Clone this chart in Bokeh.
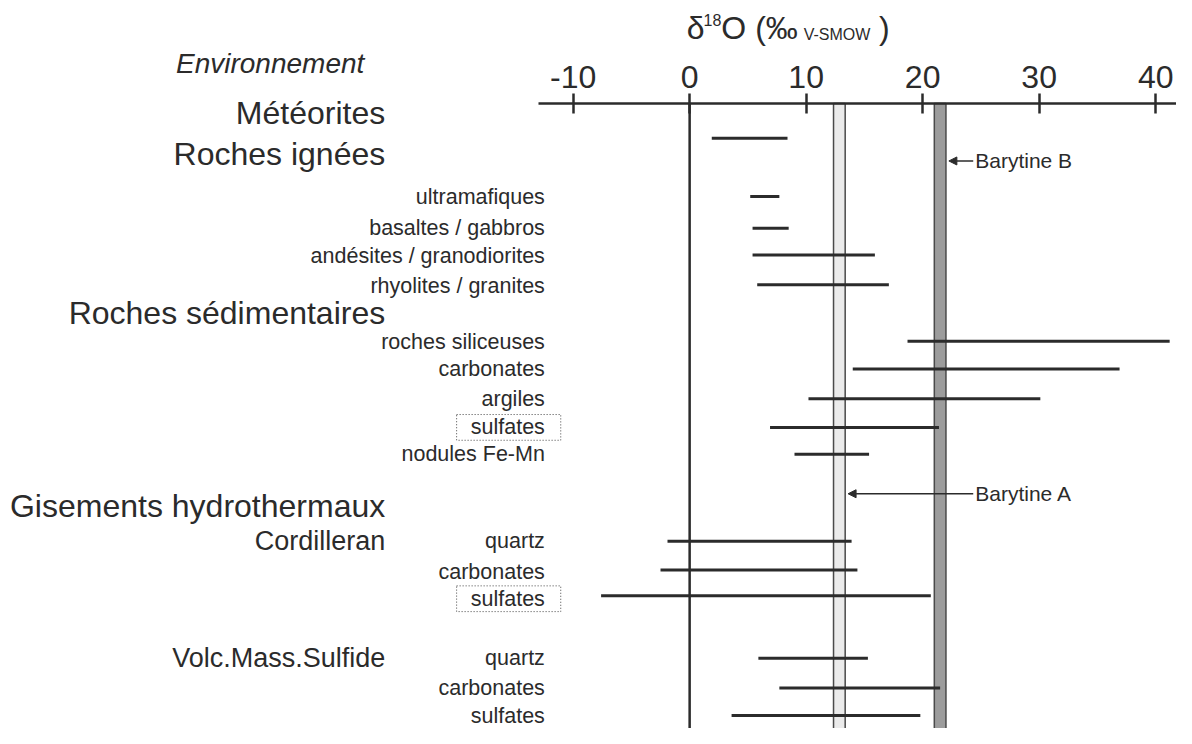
from bokeh.plotting import figure
from bokeh.models import Range1d, LinearAxis, FixedTicker, Arrow, NormalHead, ColumnDataSource
from bokeh.core.properties import value
from bokeh.embed import file_html
from bokeh.resources import INLINE

# ---------------- data ----------------
tick_values = [-10, 0, 10, 20, 30, 40]
tick_labels = ["-10", "0", "10", "20", "30", "40"]

range_labels = ["Météorites", "ultramafiques", "basaltes / gabbros", "andésites / granodiorites",
                "rhyolites / granites", "roches siliceuses", "carbonates", "argiles", "sulfates",
                "nodules Fe-Mn", "quartz", "carbonates", "sulfates", "quartz", "carbonates", "sulfates"]
range_min = [1.9, 5.2, 5.4, 5.4, 5.8, 18.7, 14.0, 10.2, 6.9, 9.0, -1.9, -2.5, -7.6, 5.9, 7.7, 3.6]
range_max = [8.4, 7.7, 8.5, 15.9, 17.1, 41.2, 36.9, 30.1, 21.4, 15.4, 13.9, 14.4, 20.7, 15.3, 21.5, 19.8]

barytine_names = ["Barytine A", "Barytine B"]
barytine_min = [12.35, 21.0]
barytine_max = [13.35, 22.0]

group_labels = ["Météorites", "Roches ignées", "Roches sédimentaires", "Gisements hydrothermaux"]
deposit_labels = ["Cordilleran", "Volc.Mass.Sulfide"]
sub_labels = range_labels[1:]
boxed_labels = [7, 11]  # index in sub_labels

# ---------------- layout ----------------
PX0, PXU = 695.0, 11.75
def X(px):
    return (px - PX0) / PXU

W, H = 1176, 728
X_SPAN = 1186     # reference pixels squeezed into the canvas width
Y_SPAN = 735      # reference pixels squeezed into the canvas height
AXIS_Y = 104
BOTTOM = 742
FONT = value("Liberation Sans")
INK = "#2b2b2b"

seg_y = [139, 198, 230, 257, 287, 344, 372, 402, 431, 458, 546, 575, 601, 664, 694, 722]
sub_y = [198, 230, 258, 288, 345, 372, 402, 431, 458, 546, 577, 604, 664, 694, 722]
group_y = [114, 155, 316, 510]
deposit_y = [546, 664]
barytine_arrow_y = [498, 162]

p = figure(width=W, height=H, x_range=Range1d(X(0), X(X_SPAN)), y_range=Range1d(Y_SPAN, 0),
           output_backend="svg", toolbar_location=None, x_axis_location=None, y_axis_location=None,
           min_border=0, outline_line_color=None, background_fill_color="white")
p.xgrid.visible = False
p.ygrid.visible = False

# axis
ax = LinearAxis(fixed_location=AXIS_Y, ticker=FixedTicker(ticks=tick_values),
                bounds=(X(543), X(X_SPAN)))
ax.major_label_overrides = {v: t for v, t in zip(tick_values, tick_labels)}
ax.axis_line_width = 2.5
ax.axis_line_color = INK
ax.major_tick_in = 10
ax.major_tick_out = 10
ax.major_tick_line_width = 2.5
ax.major_tick_line_color = INK
ax.minor_tick_in = 0
ax.minor_tick_out = 0
ax.major_label_text_font = "Liberation Sans"
ax.major_label_text_font_size = "32px"
ax.major_label_text_color = INK
ax.major_label_standoff = 6
p.add_layout(ax, "above")

# barytine bands
band_src = ColumnDataSource(dict(name=barytine_names, lo=barytine_min, hi=barytine_max,
                                 color=["#ebebeb", "#9c9c9c"]))
p.quad(left="lo", right="hi", top=AXIS_Y, bottom=BOTTOM, source=band_src,
       fill_color="color", line_color="#4a4a4a", line_width=1.5)

# zero line
p.segment(x0=[0], x1=[0], y0=[AXIS_Y], y1=[Y_SPAN], line_color=INK, line_width=2.5)

# ranges
src = ColumnDataSource(dict(label=range_labels, lo=range_min, hi=range_max, y=seg_y))
p.segment(x0="lo", x1="hi", y0="y", y1="y", source=src, line_color=INK, line_width=3)

# arrows to barytine bands
for i, name in enumerate(barytine_names):
    tip = barytine_max[i] + 0.25
    p.add_layout(Arrow(end=NormalHead(size=8, fill_color=INK, line_color=INK, line_width=1),
                       x_start=X(981), y_start=barytine_arrow_y[i], x_end=tip,
                       y_end=barytine_arrow_y[i], line_color=INK, line_width=1.5))
p.text(x=[X(983)] * 2, y=barytine_arrow_y, text=barytine_names, text_font=FONT,
       text_font_size="21px", text_align="left", text_baseline="middle", text_color=INK)

# labels
p.text(x=[X(177)], y=[64], text=["Environnement"], text_font=FONT, text_font_style="italic",
       text_font_size="28px", text_align="left", text_baseline="middle", text_color=INK)
p.text(x=[X(388)] * len(group_labels), y=group_y, text=group_labels, text_font=FONT,
       text_font_size="32px", text_align="right", text_baseline="middle", text_color=INK)
p.text(x=[X(388)] * len(deposit_labels), y=deposit_y, text=deposit_labels, text_font=FONT,
       text_font_size="27px", text_align="right", text_baseline="middle", text_color=INK)
p.text(x=[X(549)] * len(sub_labels), y=sub_y, text=sub_labels, text_font=FONT,
       text_font_size="21.5px", text_align="right", text_baseline="middle", text_color=INK)

# dotted boxes
bx = [sub_y[i] for i in boxed_labels]
p.quad(left=X(460), right=X(565), top=[y - 13 for y in bx], bottom=[y + 13 for y in bx],
       fill_color=None, line_color="#444444", line_width=1, line_dash="1 2")

# axis title  δ18O (‰ V-SMOW )
title_parts = ["δ", "18", "O (‰", "V-SMOW", ")"]
title_px = [692, 709, 727, 810, 886]
title_mid = [28, 20, 28, 34, 28]
title_size = ["32px", "16px", "32px", "16px", "32px"]
for t, px, ym, fs in zip(title_parts, title_px, title_mid, title_size):
    p.text(x=[X(px)], y=[ym], text=[t], text_font=FONT, text_font_size=fs,
           text_align="left", text_baseline="middle", text_color=INK)

open("out.html", "w").write(file_html(p, INLINE))
